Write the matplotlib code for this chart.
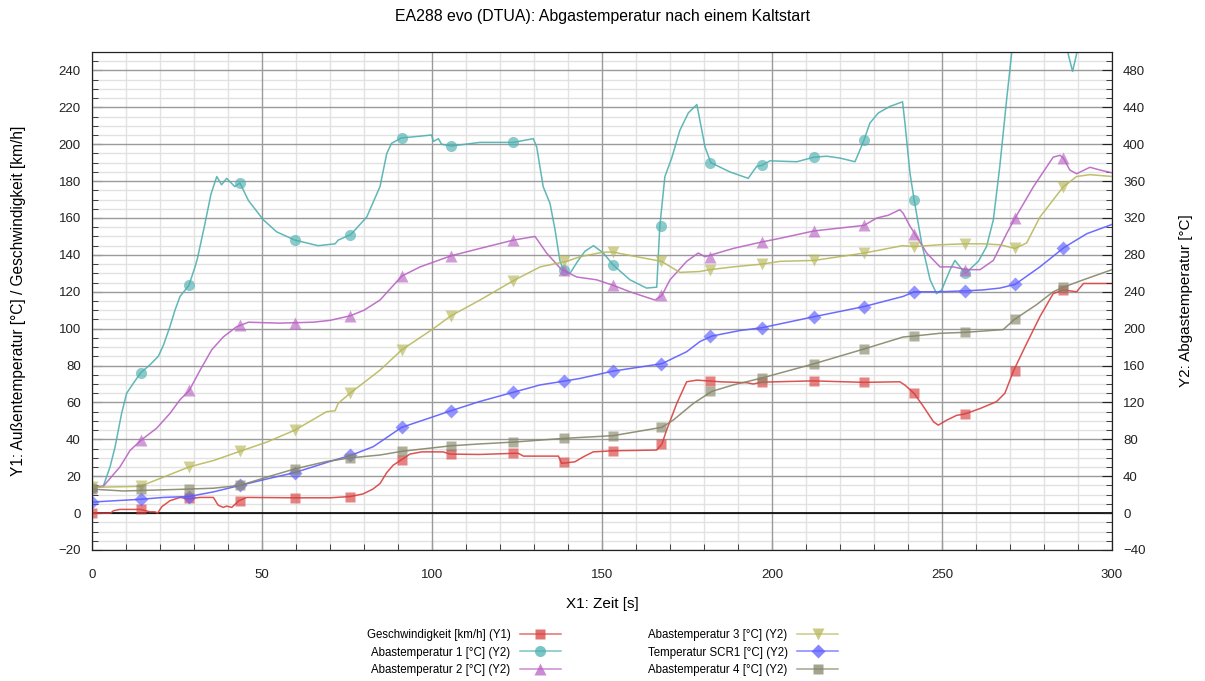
import matplotlib.pyplot as plt
from matplotlib.lines import Line2D
from matplotlib.ticker import MultipleLocator

plt.rcParams['font.family'] = ['Liberation Sans', 'DejaVu Sans']

# Geschwindigkeit [km/h] (Y1)
t_speed = [0, 5.5, 6.3, 8.2, 14.3, 17.1, 18.5, 19.3, 20.5, 22.9, 25.9, 28.5, 31.8, 35.7, 37.1, 38.6, 39.6,
           41.1, 43.2, 45.5, 60, 70, 76, 79.7, 82.6, 84.7, 86.7, 88.6, 91.1, 93.5, 97, 103.3, 105.3, 114,
           124, 125.4, 126.9, 137.2, 138.1, 142, 144.5, 147.4, 153.3, 160, 166.1, 167.6, 169, 172, 174.9,
           177.9, 181.8, 184.7, 192.6, 194.5, 197, 212, 227, 237.6, 239.1, 241.8, 244.6, 247.5, 248.9,
           251.4, 254.3, 256.6, 261.2, 266, 268.5, 271, 274.9, 278.8, 282.7, 285.7, 289.6, 291.6, 299.4, 300]
v_speed = [0, 0, 1.3, 2, 2, 0.7, 0.7, 0, 3.4, 6.7, 8.5, 7.8, 8.5, 8.5, 4.3, 3.1, 3.8,
           3.1, 6.7, 8.5, 8.3, 8.3, 9, 10.4, 13, 16, 22, 26, 29, 32, 33.2, 33.2, 32, 31.8,
           32.4, 32.4, 30.9, 30.9, 27, 27.8, 30.5, 33.2, 33.8, 34, 34.2, 37.4, 45, 59.5, 71.2,
           72.1, 71.6, 71.2, 70.7, 70, 71, 71.7, 70.9, 71.2, 69.4, 64.9, 57.6, 49.5, 47.7,
           50.4, 53, 53.7, 56.7, 60.4, 65, 77, 92, 106.5, 119, 121, 120, 124.5, 124.5, 124.5]

# Abastemperatur 1 [°C] (Y2)
t_t1 = [0, 3.3, 5.3, 6.8, 8.7, 10.2, 12.2, 14.3, 17.1, 19.5, 21, 22.9, 24.4, 25.9, 28.5, 30.3, 31, 33, 35,
        36.7, 38.1, 39.6, 42, 43.5, 46, 50.4, 54.3, 59.7, 66.5, 71.5, 72.4, 76.1, 80.8, 84.7, 86.7, 88.1,
        91.1, 94.5, 99.9, 100.4, 101.9, 102.8, 105.6, 114.1, 123.9, 129.8, 130.8, 132.7, 134.7, 136.2,
        137.6, 138.6, 140.6, 143, 145, 147.5, 150.4, 153.3, 158.2, 163.1, 166.1, 167, 168.5, 170.5, 172.9,
        175.4, 177.9, 180.3, 182, 187.6, 193, 195.5, 197, 199.4, 207.3, 212.4, 216.1, 220, 224.4, 225.9,
        227.1, 228.8, 231.3, 234.7, 238.4, 239.1, 240.6, 241.8, 244, 246.5, 248.4, 249.9, 252.4, 253.8,
        255.3, 256.9, 260.7, 263.1, 265.1, 267, 269, 270.5, 272, 280, 286, 287.1, 288.4, 289.6, 291, 300]
v_t1 = [27, 29, 50, 72, 108, 130, 141, 152, 161, 170, 182, 202, 220, 235, 247, 267, 276, 310, 346,
        365, 356, 363, 354, 358, 339, 318, 305, 296, 290, 292, 296, 302, 321, 354, 390, 401,
        407, 408, 410, 403, 406, 400, 398, 402, 402, 406, 397, 354, 336, 307,
        274, 264, 260, 274, 284, 290, 282, 269, 253, 244, 245, 311, 365, 385, 415,
        434, 443, 397, 380, 370, 363, 376, 377, 382, 381, 386, 387, 385, 381, 394,
        405, 423, 434, 441, 446, 423, 368, 340, 293, 253, 238, 242, 264, 274,
        267, 260, 273, 289, 318, 376, 448, 499, 530, 580, 530, 498, 479, 498, 530, 580]

# Abastemperatur 2 [°C] (Y2)
t_t2 = [0, 3.3, 8.2, 11.2, 14.4, 19, 22.9, 25.9, 28.6, 31.8, 35.2, 38.6, 42.5, 46, 55, 65, 70, 76, 80,
        84.7, 91.1, 96.5, 105.6, 114.1, 123.9, 130.3, 133.7, 138.1, 142.6, 148.4, 153.3, 158.2, 165.6,
        167.6, 170, 174.9, 178.3, 180.3, 188.6, 197, 202.4, 212.4, 227.1, 230.8, 234.2, 237.6, 238.6,
        240.6, 242, 245.5, 249.4, 253.3, 257, 261.2, 265.1, 269, 271.5, 276.9, 282.7, 284.7, 285.7,
        287.6, 289.6, 293.5, 296.5, 300]
v_t2 = [29, 29, 50, 68, 79, 92, 108, 123, 133, 155, 177, 191, 202, 207, 206, 207, 209, 214, 220,
        231, 257, 267, 279, 287, 296, 300, 282, 264, 256, 253, 247, 240, 231,
        236, 253, 273, 282, 278, 287, 294, 298, 306, 312, 320, 323, 329, 325,
        311, 303, 282, 267, 267, 264, 264, 274, 303, 320, 354, 386, 388, 385,
        372, 368, 375, 372, 369]

# Abastemperatur 3 [°C] (Y2)
t_t3 = [0, 14.1, 21, 28.5, 35.7, 43.5, 51.4, 59.7, 69, 71.5, 72.4, 75.9, 84.7, 91.1, 100.4, 105.6,
        114.1, 123.9, 131.8, 139.6, 143.5, 150.4, 153.3, 160.2, 167.5, 172.9, 178.8, 181.8, 188.6, 197,
        202.4, 212.4, 227.1, 238.4, 241.8, 249.4, 256.8, 262, 267, 271.5, 274.9, 278.8, 285.7, 289.6,
        293.5, 300]
v_t3 = [28, 29, 39, 50, 57, 67, 77, 90, 110, 111, 119, 130, 155, 177, 200, 214,
        231, 252, 267, 273, 278, 283, 283, 278, 273, 261, 262, 264, 267, 270,
        273, 274, 282, 290, 289, 291, 292, 292, 291, 287, 293, 321, 354, 365,
        367, 365]

# Temperatur SCR1 [°C] (Y2)
t_scr = [0, 14.3, 21, 28.5, 35.7, 43.5, 51.4, 59.7, 70, 76.4, 82.7, 84.7, 91.1, 105.6, 114, 123.9,
         131.8, 138.7, 143.5, 153.3, 167.6, 174.9, 178.8, 182.3, 190.6, 197, 212.4, 227.1, 238.6,
         241.8, 249.4, 256.8, 262, 267, 271.5, 278.8, 285.9, 292.6, 300]
v_scr = [12, 15, 17, 18, 23, 30, 37, 44, 56, 63, 72, 77, 93, 111, 121, 131,
         139, 143, 146, 154, 162, 175, 186, 192, 198, 201, 213, 224, 235,
         240, 240, 241, 242, 244, 248, 267, 288, 303, 313]

# Abastemperatur 4 [°C] (Y2)
t_t4 = [0, 9.2, 18.6, 28, 35.7, 43.5, 51.4, 59.7, 69, 76.2, 84.7, 91.1, 105.6, 114, 123.9, 138.6,
        153.3, 167.6, 171, 176.9, 182.3, 188.6, 196.5, 212.4, 227.1, 238.6, 241.8, 249.4, 256.8, 268,
        271.3, 277.8, 282.7, 285.7, 291.6, 300]
v_t4 = [26, 24, 25, 26, 27, 30, 39, 48, 56, 60, 63, 67, 73, 75, 77, 81,
        84, 93, 101, 119, 132, 139, 146, 162, 178, 191, 192, 195, 196, 199,
        210, 226, 240, 245, 253, 264]

# marker positions (same times for all series)
mark_t = [0, 14.4, 28.5, 43.4, 59.7, 76, 91.1, 105.6, 123.9, 138.7, 153.3, 167.4, 181.9, 197, 212.4,
          227.1, 241.8, 256.8, 271.4, 285.7]
mark_speed = [0, 2, 8, 6.7, 8, 9, 29, 32, 32.4, 27.8, 33.8, 37.4, 71.6, 71.2, 71.7, 70.9, 64.9, 53.7, 77, 121]
mark_t1 = [27, 152, 247, 358, 296, 302, 407, 398, 402, 264, 269, 311, 380, 377, 386, 405, 340, 260, 560, 560]
mark_t2 = [29, 79, 133, 204, 206, 214, 257, 279, 296, 264, 247, 236, 278, 294, 306, 312, 303, 264, 320, 385]
mark_t3 = [28, 29, 50, 67, 90, 130, 177, 214, 252, 273, 283, 273, 264, 270, 274, 282, 289, 292, 287, 354]
mark_scr = [12, 15, 18, 30, 44, 63, 93, 111, 131, 143, 154, 162, 192, 201, 213, 224, 240, 241, 248, 288]
mark_t4 = [26, 26, 26, 30, 48, 60, 67, 73, 77, 81, 84, 93, 132, 146, 162, 178, 192, 196, 210, 245]

labels = ['Geschwindigkeit [km/h] (Y1)', 'Abastemperatur 1 [°C] (Y2)', 'Abastemperatur 2 [°C] (Y2)',
          'Abastemperatur 3 [°C] (Y2)', 'Temperatur SCR1 [°C] (Y2)', 'Abastemperatur 4 [°C] (Y2)']
colors = ['#d84040', '#4fb0b0', '#b964c3', '#b8b85c', '#5c5cff', '#86866a']
markers = ['s', 'o', '^', 'v', 'D', 's']

fig = plt.figure(figsize=(12.05, 6.81), dpi=100)
ax = fig.add_axes([92/1205, 1-550/681, 1020/1205, 498/681])
ax2 = ax.twinx()

ax.set_xlim(0, 300)
ax.set_ylim(-20, 250)
ax2.set_ylim(-40, 500)
ax.set_xticks(range(0, 301, 50))
ax.xaxis.set_minor_locator(MultipleLocator(10))
ax.set_yticks(range(-20, 241, 20))
ax.yaxis.set_minor_locator(MultipleLocator(5))
ax2.set_yticks(range(-40, 481, 40))
ax2.yaxis.set_minor_locator(MultipleLocator(10))

# light minor grid, darker major grid drawn on top of it
ax.grid(which='minor', color='#e2e2e2', lw=1)
ax.set_axisbelow(True)
for xv in ax.get_xticks():
    ax.axvline(xv, color='#9a9a9a', lw=1, zorder=0.8)
for yv in ax.get_yticks():
    ax.axhline(yv, color='#9a9a9a', lw=1, zorder=0.8)
ax.axhline(0, color='black', lw=1.2, zorder=1.5)

for a in (ax, ax2):
    a.tick_params(which='both', direction='in', labelsize=9.5, colors='#222222')
    a.tick_params(which='major', length=7)
    a.tick_params(which='minor', length=4)
    for s in a.spines.values():
        s.set_color('#222222')
ax.tick_params(axis='y', pad=8)
ax.tick_params(axis='x', pad=14)
ax2.tick_params(axis='y', pad=8)

series = [(ax, t_speed, v_speed, mark_speed), (ax2, t_t1, v_t1, mark_t1), (ax2, t_t2, v_t2, mark_t2),
          (ax2, t_t3, v_t3, mark_t3), (ax2, t_scr, v_scr, mark_scr), (ax2, t_t4, v_t4, mark_t4)]
handles = []
for i, (a, t, v, m) in enumerate(series):
    a.plot(t, v, color=colors[i], lw=1.1, alpha=0.9)
    ms = 8 if markers[i] in ('^', 'v', 'o') else 7
    a.plot(mark_t, m, ls='none', marker=markers[i], ms=ms, color=colors[i], alpha=0.65, mec='none')
    handles.append(Line2D([], [], color=colors[i], lw=1.1, marker=markers[i], ms=ms, mec='none', alpha=0.75))

fig.suptitle('EA288 evo (DTUA): Abgastemperatur nach einem Kaltstart', y=1-9/681, va='top', fontsize=11.4)
ax.set_xlabel('X1: Zeit [s]', fontsize=11)
ax.xaxis.set_label_coords(0.5, -0.095)
ax.set_ylabel('Y1: Außentemperatur [°C] / Geschwindigkeit [km/h]', fontsize=11.2)
ax.yaxis.set_label_coords(-0.065, 0.5)
ax2.set_ylabel('Y2: Abgastemperatur [°C]', fontsize=11)
ax2.yaxis.set_label_coords(1.066, 0.5)

fig.legend(handles, labels, loc='upper center', bbox_to_anchor=(0.5, 1-623/681), ncol=2, frameon=False,
           markerfirst=False, fontsize=8.3, columnspacing=7.5, handlelength=3.6, handletextpad=0.8,
           labelspacing=0.5, borderpad=0)

plt.savefig('out.png', dpi=100)
